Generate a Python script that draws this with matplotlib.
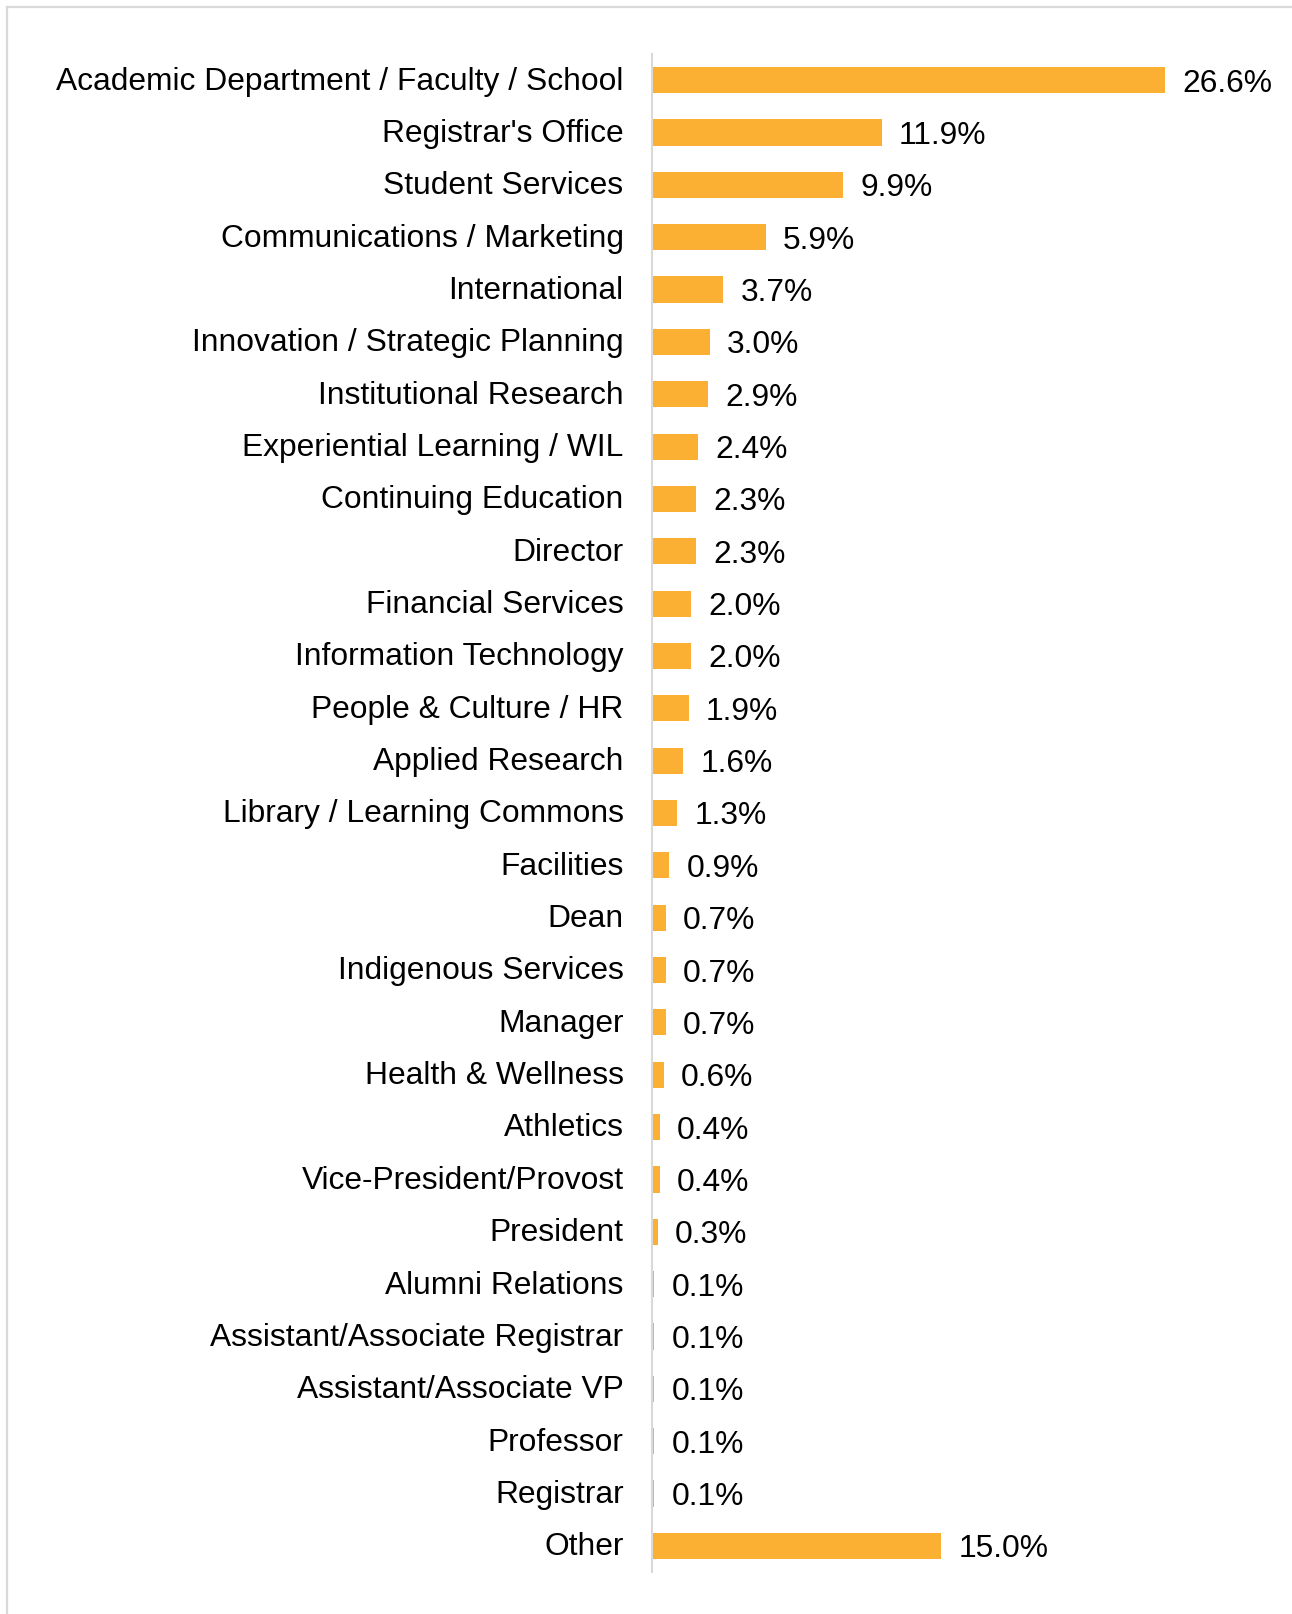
import matplotlib
matplotlib.use("Agg")
import matplotlib.pyplot as plt
from matplotlib.lines import Line2D
from matplotlib.transforms import ScaledTranslation

categories = [
    "Academic Department / Faculty / School", "Registrar's Office", "Student Services",
    "Communications / Marketing", "International", "Innovation / Strategic Planning",
    "Institutional Research", "Experiential Learning / WIL", "Continuing Education",
    "Director", "Financial Services", "Information Technology", "People & Culture / HR",
    "Applied Research", "Library / Learning Commons", "Facilities", "Dean",
    "Indigenous Services", "Manager", "Health & Wellness", "Athletics",
    "Vice-President/Provost", "President", "Alumni Relations",
    "Assistant/Associate Registrar", "Assistant/Associate VP", "Professor",
    "Registrar", "Other",
]
values = [26.6, 11.9, 9.9, 5.9, 3.7, 3.0, 2.9, 2.4, 2.3, 2.3, 2.0, 2.0, 1.9, 1.6,
          1.3, 0.9, 0.7, 0.7, 0.7, 0.6, 0.4, 0.4, 0.3, 0.1, 0.1, 0.1, 0.1, 0.1, 15.0]

plt.rcParams['font.family'] = ['Liberation Sans', 'DejaVu Sans']
W, H = 1292, 1614
fig = plt.figure(figsize=(W / 100, H / 100), dpi=100)
fig.patch.set_facecolor('white')

left_px, right_px = 652, 652 + 30 * 19.29
top_px, bot_px = 54, 1572
ax = fig.add_axes([left_px / W, 1 - bot_px / H, (right_px - left_px) / W, (bot_px - top_px) / H])

n = len(categories)
ypos = list(range(n))
ax.barh(ypos, values, height=0.5, color='#FBB034', edgecolor='none')
ax.set_ylim(n - 0.5, -0.5)
ax.set_xlim(0, 30)
ax.set_yticks(ypos)
ax.set_yticklabels(categories, fontsize=22.9, color='black')
ax.tick_params(axis='y', length=0, pad=20.5)
shift = ScaledTranslation(0, 1.5 / 72, fig.dpi_scale_trans)
for lbl in ax.get_yticklabels():
    lbl.set_transform(lbl.get_transform() + shift)
ax.set_xticks([])
for s in ['top', 'right', 'bottom']:
    ax.spines[s].set_visible(False)
ax.spines['left'].set_color('#D9D9D9')
ax.spines['left'].set_linewidth(1.5)

for y, v in zip(ypos, values):
    ax.annotate(f"{v:.1f}%", xy=(v, y), xytext=(12.5, -2.5), textcoords='offset points',
                va='center', ha='left', fontsize=22.9, color='black')

# outer frame (left and top edges)
fig.add_artist(Line2D([6.5 / W, 6.5 / W], [0, 1 - 6.5 / H], transform=fig.transFigure,
                      color='#D9D9D9', lw=1.6))
fig.add_artist(Line2D([6.5 / W, 1], [1 - 6.5 / H, 1 - 6.5 / H], transform=fig.transFigure,
                      color='#D9D9D9', lw=1.6))

fig.savefig('out.png', dpi=100)
